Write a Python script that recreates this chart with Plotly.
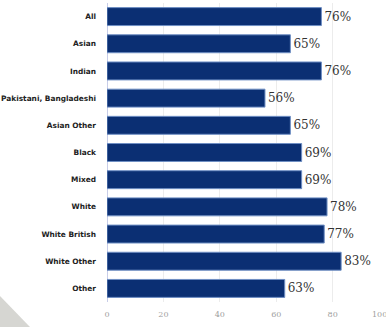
import plotly.graph_objects as go

categories = ["All", "Asian", "Indian", "Pakistani, Bangladeshi", "Asian Other",
              "Black", "Mixed", "White", "White British", "White Other", "Other"]
values = [76, 65, 76, 56, 65, 69, 69, 78, 77, 83, 63]
labels = [f"{v}%" for v in values]
tick_vals = [0, 20, 40, 60, 80]
x_max = 98.9

fig = go.Figure()
fig.add_trace(go.Bar(
    y=categories, x=values, orientation="h",
    marker=dict(color="#0b2f73", line=dict(color="#6f8fc4", width=1)),
    text=labels, textposition="outside", cliponaxis=False,
    textfont=dict(family="DejaVu Serif", size=12, color="#333333"),
    width=0.66, hoverinfo="skip",
))

fig.update_layout(
    width=386, height=327,
    margin=dict(l=107, r=0, t=3, b=25, autoexpand=False),
    paper_bgcolor="white", plot_bgcolor="white",
    showlegend=False,
    xaxis=dict(range=[0, x_max], tickvals=tick_vals, showgrid=True,
               gridcolor="#ececec", gridwidth=1, zeroline=True,
               zerolinecolor="#c8cde8", zerolinewidth=1,
               tickfont=dict(family="DejaVu Serif", size=8, color="#a0a0a0"),
               ticks="", automargin=False, ticklabelstandoff=6),
    yaxis=dict(autorange="reversed", showgrid=False, automargin=False,
               tickfont=dict(family="DejaVu Sans", size=7.4, color="#222222", weight="bold"),
               ticks="", ticklabelstandoff=10),
    shapes=[dict(type="path", xref="paper", yref="paper",
                 path="M -0.3835 0.02 L -0.3835 -0.0836 L -0.276 -0.0836 Z",
                 fillcolor="#d6d6d2", line=dict(width=0), layer="above")],
    annotations=[dict(x=100 / x_max, y=0, xref="paper", yref="paper", text="100",
                      showarrow=False, yanchor="top", yshift=-6,
                      font=dict(family="DejaVu Serif", size=8, color="#a0a0a0"))],
)

fig.write_html("out.html", config={"displayModeBar": False, "staticPlot": True},
               post_script="document.body.style.margin='0';document.body.style.overflow='hidden';")
